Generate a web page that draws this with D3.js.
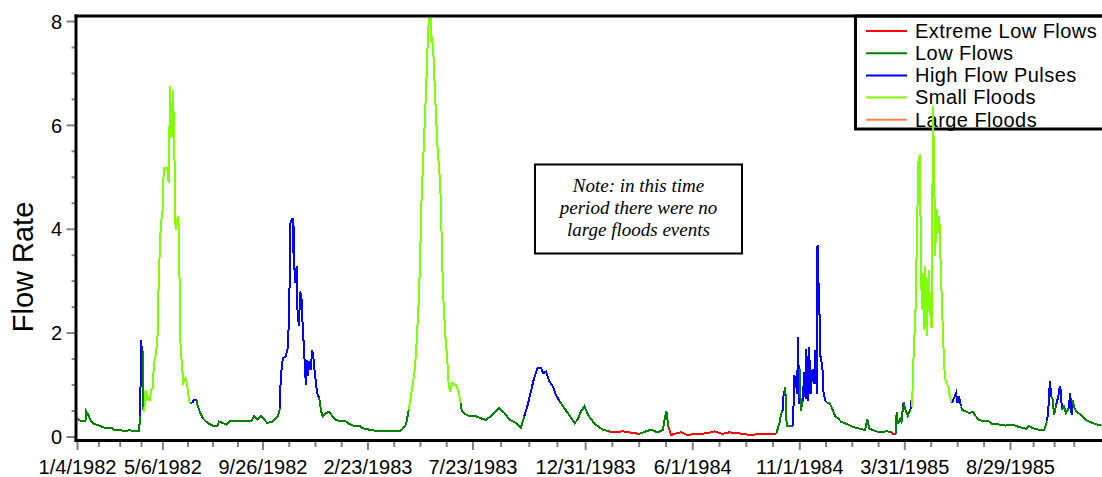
<!DOCTYPE html>
<html><head><meta charset="utf-8">
<script src="https://cdn.jsdelivr.net/npm/d3@7"></script>
<style>html,body{margin:0;padding:0;background:#fff}svg{display:block}</style>
</head><body>
<svg id="chart" width="1102" height="477"></svg>
<script>
// ---------- DATA ----------
// days since the first date (1/4/1982)
const dayIndex = [
0,6,12,13,17,20,25,32,41,51,
53,60,68,75,82,88,89,90,91,92,
93,94,95,96,97,98,99,100,102,104,
106,108,110,113,115,117,120,122,124,129,
131,133,135,137,139,140,141,144,146,147,
150,152,155,157,159,161,165,167,171,172,
176,180,184,189,194,201,203,208,213,218,
225,249,253,258,263,268,272,280,287,290,
291,294,298,301,303,305,308,309,310,311,
314,315,317,319,321,322,325,327,329,330,
332,334,336,338,340,343,346,349,351,356,
360,365,370,375,384,389,395,403,408,418,
432,461,465,470,474,477,480,483,485,488,
490,492,495,497,499,501,502,503,505,506,
507,509,512,515,519,521,523,526,529,531,
533,536,539,541,545,548,550,556,561,570,
577,584,594,603,611,618,627,634,639,644,
649,653,658,663,666,670,675,680,684,690,
696,703,711,715,720,725,730,737,741,751,
760,765,780,789,803,813,820,830,837,839,
842,845,849,856,863,872,884,899,911,922,
932,946,961,980,999,1004,1006,1008,1009,1012,
1013,1014,1018,1023,1024,1025,1027,1029,1030,1032,
1033,1034,1037,1039,1041,1042,1044,1046,1048,1051,
1053,1055,1057,1058,1059,1060,1062,1065,1066,1069,
1071,1076,1080,1083,1088,1092,1100,1109,1119,1126,
1129,1132,1138,1147,1157,1164,1165,1170,1171,1173,
1176,1178,1180,1181,1184,1187,1189,1191,1192,1193,
1195,1198,1200,1202,1204,1206,1207,1209,1210,1212,
1214,1217,1219,1221,1223,1225,1226,1228,1230,1232,
1234,1237,1239,1241,1245,1247,1250,1256,1258,1260,
1263,1265,1270,1275,1280,1284,1289,1296,1303,1308,
1318,1327,1337,1346,1356,1360,1365,1375,1382,1386,
1388,1390,1392,1394,1396,1399,1402,1404,1406,1407,
1410,1413,1417,1419,1421,1422,1425,1428,1434,1441,
1451,1458,1464];

const flowRate = [
.35,.29,.29,.49,.39,.29,.24,.21,.16,.16,
.12,.13,.10,.12,.10,.10,.16,.39,1.14,1.85,
1.16,1.64,.51,.47,.69,.89,.69,.83,.71,.71,
.89,.93,1.41,1.60,1.93,3.15,4.14,4.27,5.17,5.17,
4.88,6.74,5.75,6.68,5.75,4.34,3.98,4.24,3.98,1.99,
1.35,1.03,1.12,1.03,.80,.64,.64,.71,.71,.61,
.45,.35,.29,.24,.21,.21,.29,.26,.23,.29,
.30,.30,.39,.32,.39,.32,.26,.29,.39,.55,
1.12,1.51,1.54,1.70,2.28,4.11,4.21,3.53,4.05,2.96,
3.28,2.44,2.12,2.79,2.63,2.25,1.51,1.00,1.48,1.16,
1.45,1.29,1.67,1.48,1.19,.84,.74,.48,.39,.45,
.48,.39,.32,.30,.29,.24,.21,.21,.16,.13,
.10,.10,.14,.23,.51,.77,1.03,1.35,1.77,2.53,
3.30,4.46,5.46,6.10,6.78,7.55,7.71,8.60,8.50,7.60,
7.71,7.42,6.45,5.59,4.85,3.85,2.76,1.99,1.48,1.00,
.87,1.03,1.00,1.00,.87,.64,.48,.42,.39,.39,
.35,.32,.42,.55,.45,.32,.26,.16,.39,.61,
.90,1.12,1.32,1.32,1.22,1.25,1.06,.96,.80,.67,
.55,.42,.26,.32,.48,.58,.42,.29,.23,.13,
.10,.08,.10,.08,.05,.10,.13,.08,.13,.29,
.49,.19,.03,.06,.08,.03,.05,.06,.10,.05,
.08,.06,.03,.05,.05,.28,.44,.50,.76,.95,
.50,.21,.21,.21,.76,1.18,1.05,.82,1.91,.63,
1.30,.50,.69,1.24,.73,1.69,.69,1.72,.82,1.30,
1.02,1.66,.82,3.68,2.97,2.94,1.56,1.34,.89,.69,
.66,.63,.50,.40,.34,.28,.24,.18,.15,.12,
.34,.15,.12,.08,.10,.08,.05,.05,.47,.24,
.34,.28,.56,.66,.50,.40,.47,.53,.71,.56,
1.46,2.44,3.82,5.27,5.43,3.34,2.44,3.15,2.06,3.28,
1.93,3.21,2.38,2.09,6.36,4.78,3.47,4.37,3.92,4.24,
3.28,2.06,1.35,1.06,.96,.77,.64,.84,.64,.77,
.58,.51,.48,.45,.48,.39,.32,.29,.29,.24,
.23,.21,.23,.18,.15,.21,.16,.13,.13,.29,
.58,1.06,.77,.71,.42,.61,.77,.96,.87,.51,
.58,.45,.55,.84,.42,.71,.55,.48,.42,.32,
.26,.23,.21];

// E = extreme low, L = low, H = high flow pulse, S = small flood, F = large flood
const flowClass = [
"L","L","L","L","L","L","L","L","L","L",
"L","L","L","L","L","L","L","L","H","H",
"H","H","L","S","S","S","S","S","S","S",
"S","S","S","S","S","S","S","S","S","S",
"S","S","S","S","S","S","S","S","S","S",
"S","S","S","S","S","S","L","H","H","L",
"L","L","L","L","L","L","L","L","L","L",
"L","L","L","L","L","L","L","L","L","L",
"H","H","H","H","H","H","H","H","H","H",
"H","H","H","H","H","H","H","H","H","H",
"H","H","H","H","H","H","H","L","L","L",
"L","L","L","L","L","L","L","L","L","L",
"L","L","L","L","L","S","S","S","S","S",
"S","S","S","S","S","S","S","S","S","S",
"S","S","S","S","S","S","S","S","S","S",
"S","S","S","S","S","S","L","L","L","L",
"L","L","L","L","L","L","L","L","L","H",
"H","H","H","H","H","H","H","H","H","H",
"L","L","L","L","L","L","L","L","L","L",
"L","E","E","E","E","L","L","L","L","L",
"L","L","E","E","E","E","E","E","E","E",
"E","E","E","E","E","L","L","L","H","H",
"L","L","L","L","H","H","H","H","H","H",
"H","L","L","H","H","H","H","H","H","H",
"H","H","H","H","H","H","H","H","H","H",
"H","L","L","L","L","L","L","L","L","L",
"L","L","L","L","L","L","E","E","L","L",
"L","L","L","H","L","L","L","L","H","L",
"S","S","S","S","S","S","S","S","S","S",
"S","S","S","S","S","S","S","S","S","S",
"S","S","S","S","S","S","S","H","H","H",
"H","L","L","L","L","L","L","L","L","L",
"L","L","L","L","L","L","L","L","L","L",
"H","H","H","L","L","L","H","H","H","H",
"L","L","L","H","H","H","L","L","L","L",
"L","L","L"];

const xTickLabels = ["1/4/1982","5/6/1982","9/26/1982","2/23/1983","7/23/1983",
                     "12/31/1983","6/1/1984","11/1/1984","3/31/1985","8/29/1985"];
const xTailMinorTicks = ["10/1/1985","10/31/1985","11/28/1985"];
const yTickLabels = [0, 2, 4, 6, 8];
const legendKeys = ["E", "L", "H", "S", "F"];
const legendLabels = ["Extreme Low Flows", "Low Flows", "High Flow Pulses", "Small Floods", "Large Floods"];
const classColors = ["#ff0000", "#008000", "#0000ff", "#80ff00", "#ff8040"];
const noteLines = ["Note: in this time", "period there were no", "large floods events"];
const yTitle = "Flow Rate";

// ---------- CHART ----------
const svg = d3.select("#chart");
const SANS = "'Liberation Sans', Arial, sans-serif";
const SERIF = "'Liberation Serif', 'Times New Roman', serif";
const colorOf = d3.scaleOrdinal().domain(legendKeys).range(classColors);

const parse = d3.utcParse("%m/%d/%Y");
const tickDates = xTickLabels.map(parse);
const t0 = tickDates[0];
const x = d3.scaleUtc().domain([t0, tickDates[tickDates.length - 1]]).range([77, 1010]);
const y = d3.scaleLinear().domain([0, 8]).range([436.5, 21]);

const AX = 76, AY = 440.5, RIGHT = 1102, TOP = 16;

// minor x ticks: quarter points between labelled dates plus the tail ticks
const minorX = [];
for (let i = 0; i < tickDates.length - 1; i++) {
  const a = tickDates[i].getTime(), b = tickDates[i + 1].getTime();
  for (let k = 1; k < 4; k++) minorX.push(new Date(a + (b - a) * k / 4));
}
xTailMinorTicks.forEach(s => minorX.push(parse(s)));

// x axis ticks
const gxMinor = svg.append("g").attr("transform", `translate(0,${AY})`)
  .call(d3.axisBottom(x).tickValues(minorX).tickSize(6.5).tickFormat(""));
const gx = svg.append("g").attr("transform", `translate(0,${AY})`)
  .call(d3.axisBottom(x).tickValues(tickDates).tickSize(9.5).tickFormat((d, i) => xTickLabels[i]));
[gxMinor, gx].forEach(g => {
  g.select(".domain").remove();
  g.selectAll(".tick line").attr("stroke", "#808080").attr("stroke-width", 2);
});
gx.selectAll(".tick text").attr("y", 474 - AY).attr("dy", 0)
  .attr("font-family", SANS).attr("font-size", 20).attr("fill", "#000");

// y axis ticks
const minorY = d3.range(0, 8.01, 0.5).filter(v => v % 2 !== 0);
const gyMinor = svg.append("g").attr("transform", `translate(${AX},0)`)
  .call(d3.axisLeft(y).tickValues(minorY).tickSize(4.5).tickFormat(""));
const gy = svg.append("g").attr("transform", `translate(${AX},0)`)
  .call(d3.axisLeft(y).tickValues(yTickLabels).tickSize(9.5).tickPadding(4.5).tickFormat(d3.format("d")));
[gyMinor, gy].forEach(g => {
  g.select(".domain").remove();
  g.selectAll(".tick line").attr("stroke", "#808080").attr("stroke-width", 2);
});
gy.selectAll(".tick text").attr("dy", "0.36em")
  .attr("font-family", SANS).attr("font-size", 20).attr("fill", "#000");

// y title
svg.append("text").attr("transform", "translate(33,267) rotate(-90)")
  .attr("text-anchor", "middle").attr("font-family", SANS).attr("font-size", 29)
  .attr("fill", "#000").text(yTitle);

// legend
const lg = svg.append("g");
lg.append("rect").attr("x", 855.5).attr("y", TOP).attr("width", 270).attr("height", 113)
  .attr("fill", "#fff").attr("stroke", "#000").attr("stroke-width", 3);
legendKeys.forEach((k, i) => {
  const ry = 31 + i * 22.2;
  lg.append("line").attr("x1", 866).attr("x2", 907).attr("y1", ry).attr("y2", ry)
    .attr("stroke", colorOf(k)).attr("stroke-width", 2);
  lg.append("text").attr("x", 915).attr("y", ry + 6.8)
    .attr("font-family", SANS).attr("font-size", 20).attr("letter-spacing", 0.45)
    .attr("fill", "#000").text(legendLabels[i]);
});

// note box
svg.append("rect").attr("x", 535).attr("y", 164.5).attr("width", 207).attr("height", 89)
  .attr("fill", "#fff").attr("stroke", "#000").attr("stroke-width", 2);
noteLines.forEach((t, i) => {
  svg.append("text").attr("x", 638.5).attr("y", 192 + i * 22)
    .attr("text-anchor", "middle").attr("font-family", SERIF).attr("font-style", "italic")
    .attr("font-size", 19).attr("fill", "#000").text(t);
});

// data line, coloured by event class
svg.append("clipPath").attr("id", "plotclip").append("rect")
  .attr("x", AX + 1.5).attr("y", TOP + 1.5).attr("width", RIGHT - AX).attr("height", AY - TOP - 3);
const DAY = 864e5;
const pts = dayIndex.map((d, i) => ({ date: new Date(t0.getTime() + d * DAY), v: flowRate[i], c: flowClass[i] }));
const runs = [];
let cur = null;
for (let i = 1; i < pts.length; i++) {
  const c = pts[i].c;
  if (!cur || cur.c !== c) { cur = { c, pts: [pts[i - 1]] }; runs.push(cur); }
  cur.pts.push(pts[i]);
}
const line = d3.line().x(d => x(d.date)).y(d => y(d.v));
svg.append("g").attr("clip-path", "url(#plotclip)")
  .selectAll("path").data(runs).join("path")
  .attr("d", r => line(r.pts)).attr("fill", "none")
  .attr("stroke", r => colorOf(r.c)).attr("stroke-width", 2)
  .attr("stroke-linejoin", "miter").attr("shape-rendering", "crispEdges");

// frame: left axis, bottom axis, top border
svg.append("line").attr("x1", AX).attr("x2", AX).attr("y1", TOP - 1.5).attr("y2", AY + 1.5)
  .attr("stroke", "#000").attr("stroke-width", 3);
svg.append("line").attr("x1", AX - 1.5).attr("x2", RIGHT).attr("y1", AY).attr("y2", AY)
  .attr("stroke", "#000").attr("stroke-width", 3);
svg.append("line").attr("x1", AX - 1.5).attr("x2", RIGHT).attr("y1", TOP).attr("y2", TOP)
  .attr("stroke", "#000").attr("stroke-width", 3);
</script>
</body></html>
